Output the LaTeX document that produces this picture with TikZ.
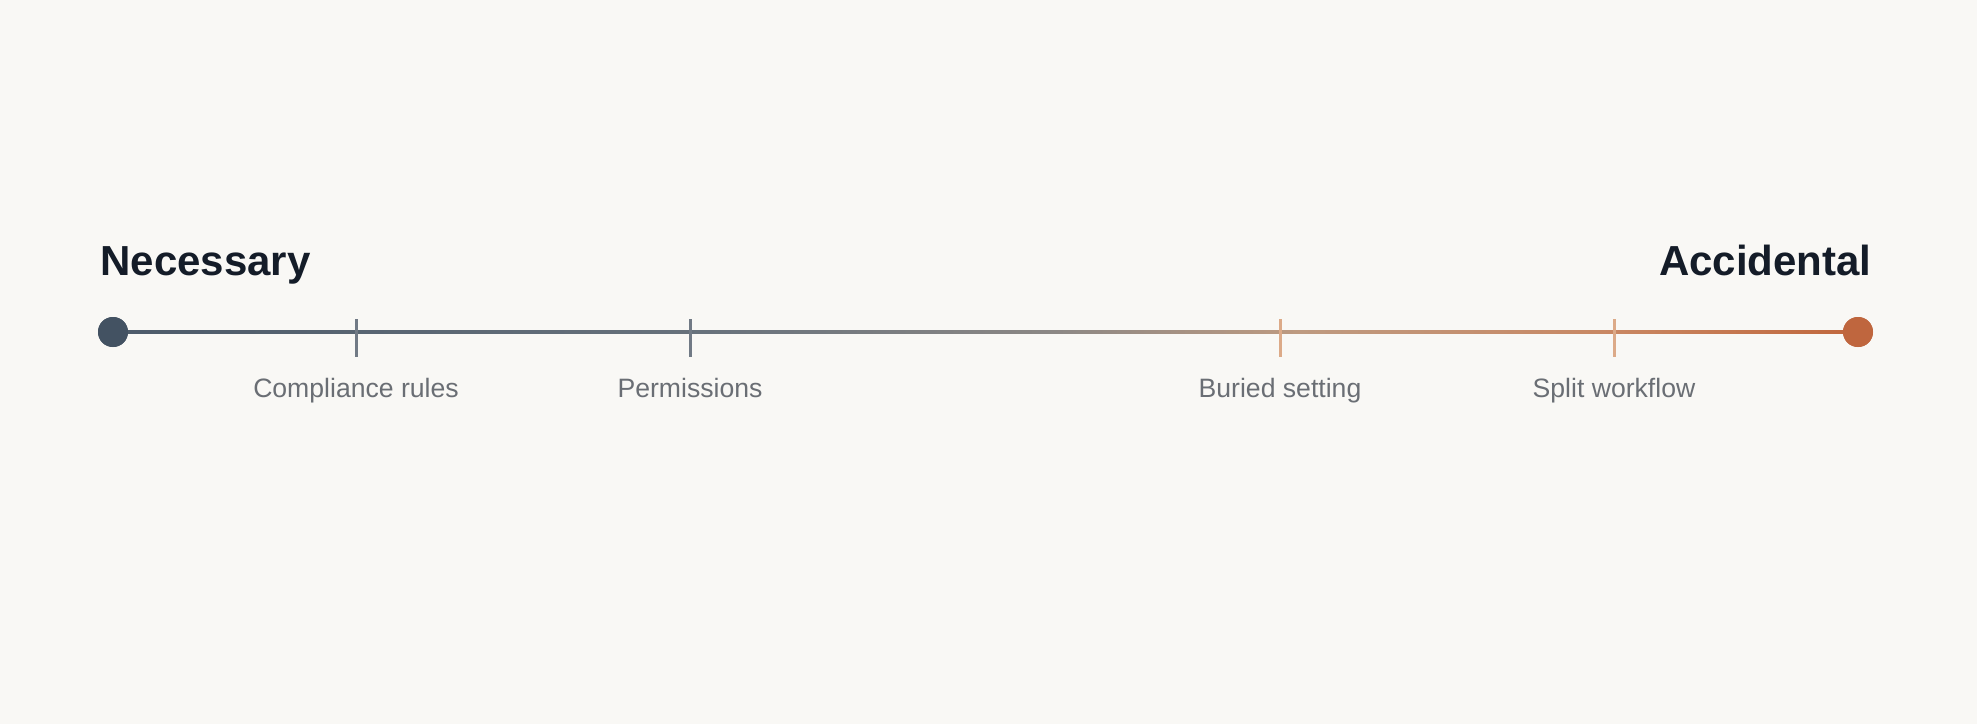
\documentclass[tikz,border=0pt]{standalone}
\usepackage{fontspec}
\setmainfont{Liberation Sans}
\usetikzlibrary{calc}
\definecolor{paper}{HTML}{F9F8F5}
\definecolor{ink}{HTML}{141C28}
\definecolor{slate}{HTML}{435262}
\definecolor{rust}{HTML}{BF663E}
\definecolor{tickgrey}{HTML}{717A85}
\definecolor{ticktan}{HTML}{DCAA88}
\definecolor{labelgrey}{HTML}{6A6E74}
\definecolor{lineA}{HTML}{4D5B6A}
\definecolor{lineB}{HTML}{68727C}
\definecolor{lineC}{HTML}{8C8885}
\definecolor{lineD}{HTML}{BE9A80}
\definecolor{lineE}{HTML}{C98762}
\definecolor{lineF}{HTML}{C0663C}
\pgfdeclarehorizontalshading{spectrum}{100bp}{color(0bp)=(lineA); color(25bp)=(lineA); color(42bp)=(lineB); color(52bp)=(lineC); color(59bp)=(lineD); color(68bp)=(lineE); color(75bp)=(lineF); color(100bp)=(lineF)}
\tikzset{
  dot/.style={circle,inner sep=0pt,minimum size=15pt},
  pole/.style={font=\fontsize{21}{25}\selectfont\bfseries,text=ink,inner sep=0pt},
  tag/.style={font=\fontsize{13.3}{16}\selectfont,text=labelgrey,inner sep=0pt,anchor=base},
  notch/.style={line width=1.5pt}
}
\begin{document}
\begin{tikzpicture}[x=0.5pt,y=-0.5pt]
        \fill[paper] (0,0) rectangle (1977,724);
        % end points
        \draw (113,332) node[dot,fill=slate](nec){};
        \draw (1858,332) node[dot,fill=rust](acc){};
        \shade[shading=spectrum] ($(nec.center)+(0,-1.5)$) rectangle ($(acc.center)+(0,1.5)$);
        \fill[slate] (nec) circle (7.5pt);
        \fill[rust] (acc) circle (7.5pt);
        \draw (100,275) node[pole,anchor=base west](necl){Necessary};
        \draw (1872,275) node[pole,anchor=base east](accl){Accidental};
        % ticks
        \coordinate (t1) at (356,332);
        \coordinate (t2) at (690,332);
        \coordinate (t3) at (1280,332);
        \coordinate (t4) at (1614,332);
        \draw[notch,tickgrey] ($(t1)+(0,-13)$) -- ($(t1)+(0,25)$);
        \draw[notch,tickgrey] ($(t2)+(0,-13)$) -- ($(t2)+(0,25)$);
        \draw[notch,ticktan] ($(t3)+(0,-13)$) -- ($(t3)+(0,25)$);
        \draw[notch,ticktan] ($(t4)+(0,-13)$) -- ($(t4)+(0,25)$);
        \draw (356,397) node[tag](cr){Compliance rules};
        \draw (690,397) node[tag](pm){Permissions};
        \draw (1280,397) node[tag](bs){Buried setting};
        \draw (1614,397) node[tag](sw){Split workflow};
\end{tikzpicture}
\end{document}
